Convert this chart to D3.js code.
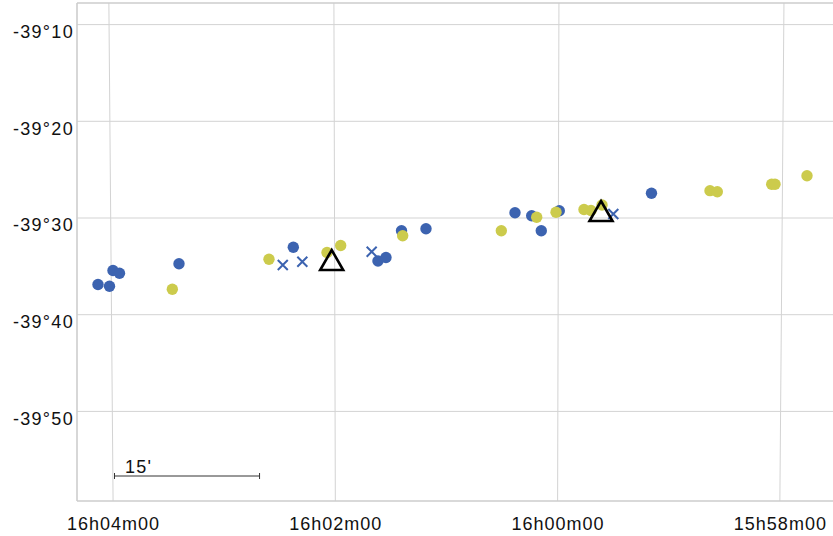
<!DOCTYPE html>
<html>
<head>
<meta charset="utf-8">
<script src="https://cdn.jsdelivr.net/npm/d3@7"></script>
<style>
  html, body { margin: 0; padding: 0; background: #fff; }
  svg { display: block; }
  text { font-family: "Liberation Sans", Arial, Helvetica, sans-serif; fill: #111; }
</style>
</head>
<body>
<svg id="chart" width="833" height="536"></svg>
<script>
// ---- Data (RA and Dec in degrees) ----
const blueRA  = [241.0296, 241.0039, 240.9958, 240.9813, 240.8481, 240.5923, 240.4031, 240.3852,
                 240.3504, 240.2957, 240.0969, 240.0596, 240.0381, 239.9980, 239.7923];
const blueDec = [-39.6146, -39.6177, -39.5905, -39.5953, -39.5788, -39.5505, -39.5741, -39.5681,
                 -39.5219, -39.5184, -39.4909, -39.4960, -39.5219, -39.4874, -39.4574];

const yellowRA  = [240.8634, 240.6468, 240.5170, 240.4864, 240.3478, 240.1274, 240.0484, 240.0053,
                   239.9428, 239.9272, 239.9026, 239.6617, 239.6454, 239.5241, 239.5167, 239.4455];
const yellowDec = [-39.6229, -39.5710, -39.5595, -39.5474, -39.5307, -39.5219, -39.4988, -39.4902,
                   -39.4853, -39.4871, -39.4776, -39.4529, -39.4547, -39.4419, -39.4419, -39.4271];

const crossRA  = [240.6160, 240.5723, 240.4171, 239.8773];
const crossDec = [-39.5810, -39.5753, -39.5581, -39.4931];

const triRA  = [240.5066, 239.9048];
const triDec = [-39.5750, -39.4905];

// Grid ticks
const raTicks    = [241.5, 241.0, 240.5, 240.0, 239.5, 239.0];
const raLabels   = ["16h06m00", "16h04m00", "16h02m00", "16h00m00", "15h58m00", "15h56m00"];
const decTicks   = [-39 - 0/60, -39 - 10/60, -39 - 20/60, -39 - 30/60, -39 - 40/60, -39 - 50/60, -40];
const decLabels  = ["-39°00", "-39°10", "-39°20", "-39°30", "-39°40", "-39°50", "-40°00"];

const scaleBarArcmin = 15;
const scaleBarLabel = "15'";

// ---- Layout ----
const W = 833, H = 536;
const plot = { left: 77, top: 3, right: 840, bottom: 501 };
const pxPerArcmin = 9.67;
const BLUE = "#3c63b0", YELLOW = "#cccb4c";

// Sinusoidal sky projection (RA increasing to the left)
const raw = (l, p) => [l * Math.cos(p), p];
raw.invert = (x, y) => [x / Math.cos(y), y];
const projection = d3.geoProjection(raw)
  .rotate([-240.2425, 0])
  .center([0, -39.5])
  .scale(pxPerArcmin * 60 * 180 / Math.PI)
  .translate([449.8, 218])
  .reflectX(true);

const svg = d3.select("#chart");

svg.append("defs").append("clipPath").attr("id", "plotclip")
  .append("rect")
  .attr("x", plot.left).attr("y", plot.top)
  .attr("width", plot.right - plot.left).attr("height", plot.bottom - plot.top);

const grid = svg.append("g").attr("clip-path", "url(#plotclip)")
  .attr("stroke", "#d3d3d3").attr("stroke-width", 1).attr("fill", "none");

// meridians
raTicks.forEach(ra => {
  const a = projection([ra, -38.9]), b = projection([ra, -40.2]);
  grid.append("line").attr("x1", a[0]).attr("y1", a[1]).attr("x2", b[0]).attr("y2", b[1]);
});
// parallels
decTicks.forEach(dec => {
  const a = projection([242.0, dec]), b = projection([238.8, dec]);
  grid.append("line").attr("x1", a[0]).attr("y1", a[1]).attr("x2", b[0]).attr("y2", b[1]);
});

// frame
const frame = svg.append("g").attr("stroke", "#cdcdcd").attr("stroke-width", 1.6).attr("fill", "none");
frame.append("line").attr("x1", plot.left).attr("y1", plot.top).attr("x2", W).attr("y2", plot.top);
frame.append("line").attr("x1", plot.left).attr("y1", plot.top).attr("x2", plot.left).attr("y2", plot.bottom);
frame.append("line").attr("x1", plot.left).attr("y1", plot.bottom).attr("x2", W).attr("y2", plot.bottom);

// axis labels
const decBottom = projection.invert([449.8, plot.bottom])[1];
raTicks.forEach((ra, i) => {
  const p = projection([ra, decBottom]);
  if (p[0] < plot.left - 5 || p[0] > W) return;
  svg.append("text").attr("x", p[0] + 0.5).attr("y", 529.5)
    .attr("text-anchor", "middle").attr("font-size", 18).attr("letter-spacing", 1.0)
    .text(raLabels[i]);
});
decTicks.forEach((dec, i) => {
  const p = projection([240.0, dec]);
  if (p[1] < plot.top + 5 || p[1] > plot.bottom) return;
  svg.append("text").attr("x", 74).attr("y", p[1] + 13.2)
    .attr("text-anchor", "end").attr("font-size", 18).attr("letter-spacing", 1.3)
    .text(decLabels[i]);
});

// scale bar
const sbX0 = 114.5, sbY = 476;
const sbX1 = sbX0 + scaleBarArcmin * pxPerArcmin;
const sb = svg.append("g").attr("stroke", "#333").attr("stroke-width", 1);
sb.append("line").attr("x1", sbX0).attr("y1", sbY).attr("x2", sbX1).attr("y2", sbY);
sb.append("line").attr("x1", sbX0).attr("y1", sbY - 3).attr("x2", sbX0).attr("y2", sbY + 3);
sb.append("line").attr("x1", sbX1).attr("y1", sbY - 3).attr("x2", sbX1).attr("y2", sbY + 3);
svg.append("text").attr("x", 125).attr("y", 472.5).attr("font-size", 18).attr("letter-spacing", 1.2)
  .text(scaleBarLabel);

// ---- Marks ----
const marks = svg.append("g").attr("clip-path", "url(#plotclip)");
const pts = (ras, decs) => ras.map((r, i) => projection([r, decs[i]]));

marks.append("g").selectAll("circle").data(pts(blueRA, blueDec)).join("circle")
  .attr("cx", d => d[0]).attr("cy", d => d[1]).attr("r", 5.7).attr("fill", BLUE);

marks.append("g").selectAll("circle").data(pts(yellowRA, yellowDec)).join("circle")
  .attr("cx", d => d[0]).attr("cy", d => d[1]).attr("r", 5.7).attr("fill", YELLOW);

const cs = 5;
marks.append("g").selectAll("path").data(pts(crossRA, crossDec)).join("path")
  .attr("d", d => `M${d[0]-cs},${d[1]-cs}L${d[0]+cs},${d[1]+cs}M${d[0]-cs},${d[1]+cs}L${d[0]+cs},${d[1]-cs}`)
  .attr("stroke", BLUE).attr("stroke-width", 2).attr("fill", "none");

marks.append("g").selectAll("path").data(pts(triRA, triDec)).join("path")
  .attr("d", d => `M${d[0]},${d[1]-11.5}L${d[0]+11.5},${d[1]+8.5}L${d[0]-11.5},${d[1]+8.5}Z`)
  .attr("stroke", "#000").attr("stroke-width", 2.6).attr("stroke-linejoin", "miter").attr("fill", "none");
</script>
</body>
</html>
